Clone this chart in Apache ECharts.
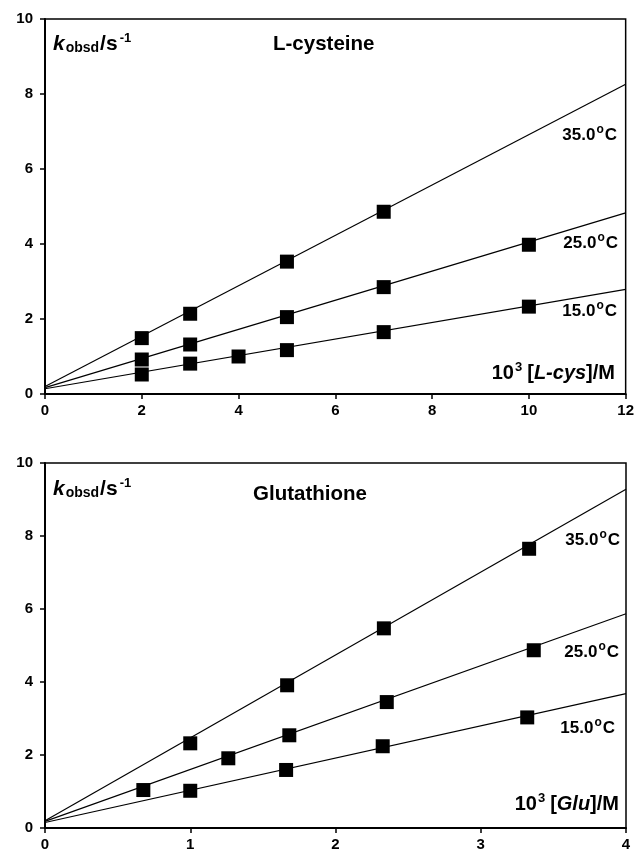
<!DOCTYPE html>
<html>
<head>
<meta charset="utf-8">
<script src="https://cdn.jsdelivr.net/npm/echarts@6/dist/echarts.min.js"></script>
<style>
  html, body { margin: 0; padding: 0; background: #fff; }
  #main { width: 637px; height: 852px; }
</style>
</head>
<body>
<div id="main"></div>
<script>
// L-cysteine, x = 10^3 [L-cys]/M
const cys35 = [[2, 1.49], [3, 2.14], [5, 3.53], [7, 4.86]]
const cys25 = [[2, 0.92], [3, 1.32], [5, 2.05], [7, 2.85], [10, 3.98]]
const cys15 = [[2, 0.52], [3, 0.81], [4, 1.0], [5, 1.17], [7, 1.65], [10, 2.33]]
const cysFit35 = [[0, 0.2], [12, 8.26]]
const cysFit25 = [[0, 0.17], [12, 4.83]]
const cysFit15 = [[0, 0.14], [12, 2.79]]

// Glutathione, x = 10^3 [Glu]/M
const glu35 = [[1.0, 2.32], [1.667, 3.91], [2.333, 5.47], [3.333, 7.65]]
const glu25 = [[0.677, 1.04], [1.262, 1.91], [1.682, 2.54], [2.353, 3.45], [3.365, 4.87]]
const glu15 = [[1.0, 1.02], [1.66, 1.59], [2.325, 2.24], [3.32, 3.03]]
const gluFit35 = [[0, 0.2], [4, 9.28]]
const gluFit25 = [[0, 0.18], [4, 5.87]]
const gluFit15 = [[0, 0.15], [4, 3.68]]

const FONT = '"Liberation Sans", Arial, Helvetica, sans-serif'

let chart = echarts.init(document.getElementById('main'), null, { renderer: 'canvas' })

// 坐标轴样式
const axisCommon = {
  axisLine: { show: true, onZero: false, lineStyle: { color: '#000', width: 2 } },
  axisTick: { show: true, inside: false, length: 5, lineStyle: { color: '#000', width: 1.5 } },
  axisLabel: { color: '#000', fontFamily: FONT, fontWeight: 'bold', fontSize: 15 },
  splitLine: { show: false }
}

const scatter = (data, idx) => ({
  type: 'scatter', xAxisIndex: idx, yAxisIndex: idx, data: data,
  symbol: 'rect', symbolSize: 14, itemStyle: { color: '#000', opacity: 1 }, z: 3
})
const fit = (data, idx) => ({
  type: 'line', xAxisIndex: idx, yAxisIndex: idx, data: data,
  showSymbol: false, symbol: 'none', silent: true,
  lineStyle: { color: '#000', width: 1.2 }, z: 2
})

const rich = {
  n: { fontFamily: FONT, fontWeight: 'bold', fontSize: 17, fill: '#000' },
  sup: { fontFamily: FONT, fontWeight: 'bold', fontSize: 12, padding: [0, 1, 11, 1] }
}
const tempLabel = (t, right, y) => ({
  type: 'text', right: right, top: y - 11,
  style: { text: '{n|' + t + '}{sup|o}{n|C}', rich: rich, fill: '#000' }
})
const kLabel = (y) => ({
  type: 'text', left: 53, top: y,
  style: {
    text: '{k|k}{sub|obsd}{n|/s}{sup|-1}', fill: '#000',
    rich: {
      k: { fontFamily: FONT, fontWeight: 'bold', fontStyle: 'italic', fontSize: 21 },
      sub: { fontFamily: FONT, fontWeight: 'bold', fontSize: 14, padding: [8, 1, 0, 1] },
      n: { fontFamily: FONT, fontWeight: 'bold', fontSize: 21 },
      sup: { fontFamily: FONT, fontWeight: 'bold', fontSize: 13, padding: [0, 0, 12, 2] }
    }
  }
})
const xLabel = (name, right, y) => ({
  type: 'text', right: right, top: y,
  style: {
    text: '{n|10}{sup|3}{n|[}{i|' + name + '}{n|]/M}', fill: '#000',
    rich: {
      n: { fontFamily: FONT, fontWeight: 'bold', fontSize: 20 },
      i: { fontFamily: FONT, fontWeight: 'bold', fontStyle: 'italic', fontSize: 20 },
      sup: { fontFamily: FONT, fontWeight: 'bold', fontSize: 13, padding: [0, 5, 11, 1] }
    }
  }
})
const titleText = (txt, x, y) => ({
  type: 'text', left: x, top: y,
  style: { text: txt, fill: '#000', font: 'bold 20.5px ' + FONT }
})

chart.setOption({
  animation: false,
  backgroundColor: '#fff',
  grid: [
    { left: 45, right: 10, top: 19, height: 375, show: true, borderColor: '#000', borderWidth: 1.5 },
    { left: 45, right: 11, top: 463, height: 366, show: true, borderColor: '#000', borderWidth: 1.5 }
  ],
  xAxis: [
    Object.assign({ type: 'value', gridIndex: 0, min: 0, max: 12, interval: 2 }, axisCommon,
      { axisLabel: Object.assign({}, axisCommon.axisLabel, { margin: 9 }) }),
    Object.assign({ type: 'value', gridIndex: 1, min: 0, max: 4, interval: 1 }, axisCommon,
      { axisLabel: Object.assign({}, axisCommon.axisLabel, { margin: 9 }) })
  ],
  yAxis: [
    Object.assign({ type: 'value', gridIndex: 0, min: 0, max: 10, interval: 2 }, axisCommon,
      { axisLabel: Object.assign({}, axisCommon.axisLabel, { margin: 12 }) }),
    Object.assign({ type: 'value', gridIndex: 1, min: 0, max: 10, interval: 2 }, axisCommon,
      { axisLabel: Object.assign({}, axisCommon.axisLabel, { margin: 12 }) })
  ],
  series: [
    fit(cysFit35, 0), fit(cysFit25, 0), fit(cysFit15, 0),
    scatter(cys35, 0), scatter(cys25, 0), scatter(cys15, 0),
    fit(gluFit35, 1), fit(gluFit25, 1), fit(gluFit15, 1),
    scatter(glu35, 1), scatter(glu25, 1), scatter(glu15, 1)
  ],
  graphic: [
    kLabel(32),
    titleText('L-cysteine', 273, 34),
    tempLabel('35.0', 20, 135),
    tempLabel('25.0', 19, 243),
    tempLabel('15.0', 20, 311),
    xLabel('L-cys', 22, 361),
    kLabel(477),
    titleText('Glutathione', 253, 484),
    tempLabel('35.0', 17, 540),
    tempLabel('25.0', 18, 652),
    tempLabel('15.0', 22, 728),
    xLabel('Glu', 18, 792)
  ]
})
</script>
</body>
</html>
